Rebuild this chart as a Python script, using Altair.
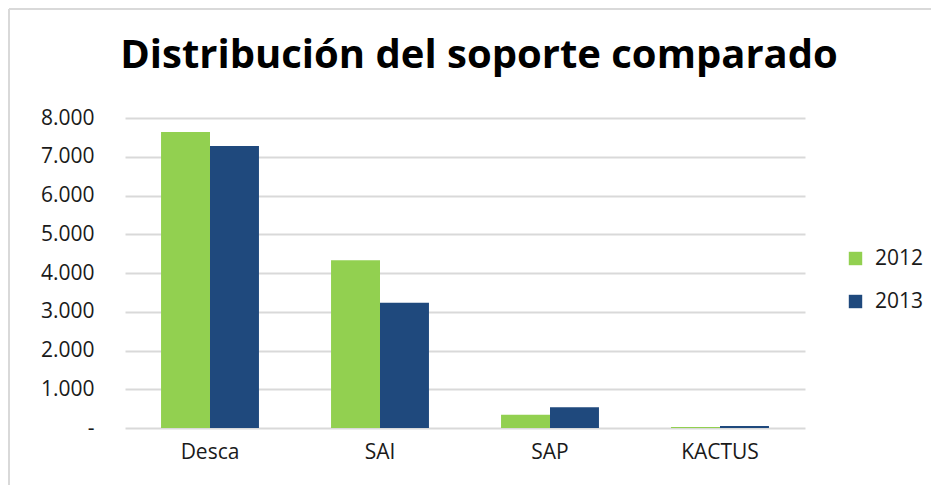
import altair as alt
import pandas as pd

categories = ["Desca", "SAI", "SAP", "KACTUS"]
years = ["2012", "2013"]
values_2012 = [7640, 4330, 340, 25]
values_2013 = [7280, 3230, 535, 50]

rows = []
for c, v1, v2 in zip(categories, values_2012, values_2013):
    rows.append({"cat": c, "year": "2012", "value": v1})
    rows.append({"cat": c, "year": "2013", "value": v2})
df = pd.DataFrame(rows)

FONT = "Open Sans"

bars = alt.Chart(df).mark_bar().encode(
    x=alt.X("cat:N", sort=categories, title=None,
            scale=alt.Scale(paddingInner=0.424, paddingOuter=0.212),
            axis=alt.Axis(labelAngle=0, labelFontSize=21, labelColor="#1a1a1a",
                          labelFont=FONT, domain=False, ticks=False, labelPadding=13)),
    xOffset=alt.XOffset("year:N", scale=alt.Scale(paddingInner=0, paddingOuter=0)),
    y=alt.Y("value:Q", title=None,
            scale=alt.Scale(domain=[0, 8000]),
            axis=alt.Axis(values=[0, 1000, 2000, 3000, 4000, 5000, 6000, 7000, 8000],
                          labelExpr="datum.value == 0 ? '-' : replace(format(datum.value, ','), ',', '.')",
                          labelFontSize=21, labelColor="#1a1a1a", labelFont=FONT,
                          domain=False, ticks=False, labelPadding=31,
                          gridColor="#d9d9d9", gridWidth=2)),
    color=alt.Color("year:N", title=None,
                    scale=alt.Scale(domain=years, range=["#92d050", "#1f497d"]),
                    legend=alt.Legend(orient="none", legendX=720, legendY=130,
                                      symbolType="square", symbolSize=180,
                                      symbolStrokeWidth=0,
                                      labelFontSize=21, labelFont=FONT,
                                      labelColor="#1a1a1a", rowPadding=21,
                                      labelOffset=9)),
)

border_top = alt.Chart(df).mark_rule(color="#d9d9d9", strokeWidth=2).encode(
    x=alt.value(-116), x2=alt.value(830), y=alt.value(-109)
)
border_left = alt.Chart(df).mark_rule(color="#d9d9d9", strokeWidth=2).encode(
    x=alt.value(-116), y=alt.value(-109), y2=alt.value(380)
)

chart = alt.layer(bars, border_top, border_left).properties(
    width=680, height=310,
    padding={"left": 117, "top": 110, "right": 126, "bottom": 57},
    autosize=alt.AutoSizeParams(type="none"),
    title=alt.TitleParams("Distribución del soporte comparado", fontSize=40,
                          font=FONT, fontWeight="bold", color="#000000",
                          anchor="middle", frame="group", offset=-68, dx=14),
).configure(background="white").configure_view(stroke=None)

chart.save("out.html", embed_options={"renderer": "svg", "actions": False})
